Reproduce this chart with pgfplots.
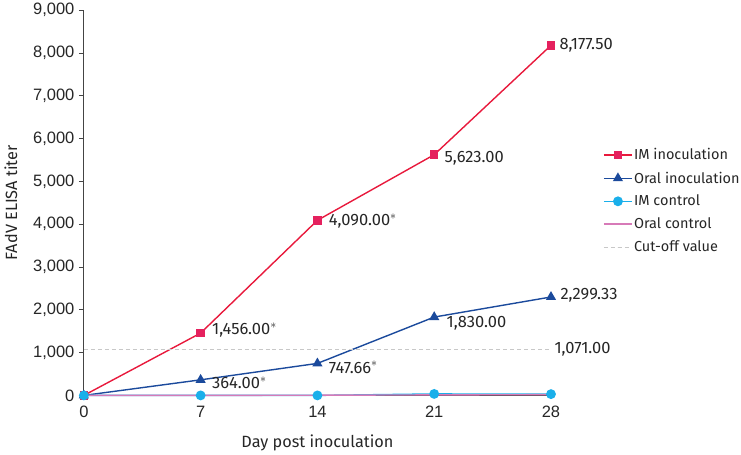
\documentclass[border=0pt]{standalone}
\usepackage{pgfplots}
\pgfplotsset{compat=1.18}
\usepackage{fontspec}
\setmainfont{Fira Sans}
\newfontfamily\tickfont{Liberation Sans}
\definecolor{IMred}{HTML}{E8193C}
\definecolor{IMmark}{HTML}{E5215E}
\definecolor{OralBlue}{HTML}{1B4A9C}
\definecolor{CtrlCyan}{HTML}{1AAFEA}
\definecolor{OralPink}{HTML}{D77AB8}
\definecolor{CutGray}{HTML}{C8C8C8}
\definecolor{AxisGray}{HTML}{444444}
\newcommand{\lblfont}{\fontsize{16.5}{18}\selectfont}
\begin{document}
\begin{tikzpicture}
\path (-84pt,-59pt) rectangle (657pt,394pt);
\begin{axis}[
  at={(0,0)}, anchor=south west,
  scale only axis, width=468pt, height=386pt,
  xmin=0, xmax=28, ymin=0, ymax=9000,
  clip=false,
  axis x line=bottom, axis y line=left,
  axis line style={AxisGray, line width=0.8pt, -},
  xtick={0,7,14,21,28},
  ytick={0,1000,...,9000},
  x tick style={draw=none},
  y tick style={AxisGray, line width=0.8pt},
  tick align=outside, major tick length=5pt,
  ticklabel style={font=\tickfont\fontsize{16.5}{18}\selectfont, text=black!85},
  yticklabel style={xshift=-1pt},
  xticklabel style={yshift=-2pt},
  scaled y ticks=false,
  /pgf/number format/.cd, 1000 sep={,}, assume math mode=true,
  /pgfplots/.cd,
  xlabel={Day post inoculation},
  ylabel={FAdV ELISA titer},
  label style={font=\fontsize{16.3}{18}\selectfont, text=black!85},
  xlabel style={yshift=-10pt},
  ylabel style={yshift=9pt},
  legend style={at={(1.1115,0.645)}, anchor=north west, draw=none, fill=none,
    font=\fontsize{14.5}{17}\selectfont, text=black!85, row sep=7.5pt,
    inner sep=0pt, nodes={inner sep=1.5pt}},
  legend cell align=left,
  legend image code/.code={
    \draw[mark repeat=2, mark phase=2, #1]
      plot coordinates {(0pt,0pt) (14pt,0pt) (28pt,0pt)};
  },
]
% IM inoculation
\addplot[IMred, line width=1.4pt, mark=square*, mark size=3.6pt,
  mark options={fill=IMmark, draw=IMmark}]
  coordinates {(0,0) (7,1456) (14,4090) (21,5623) (28,8177.5)};
\addlegendentry{IM inoculation}
% Oral inoculation
\addplot[OralBlue, line width=1.4pt, mark=triangle*, mark size=4.5pt,
  mark options={fill=OralBlue}]
  coordinates {(0,0) (7,364) (14,747.66) (21,1830) (28,2299.33)};
\addlegendentry{Oral inoculation}
% IM control
\addplot[CtrlCyan, line width=1.4pt, mark=*, mark size=4.2pt,
  mark options={fill=CtrlCyan, draw=CtrlCyan}]
  coordinates {(0,0) (7,0) (14,0) (21,35) (28,30)};
\addlegendentry{IM control}
% Oral control
\addplot[OralPink, line width=1.4pt, no markers]
  coordinates {(0,0) (7,0) (14,5) (21,12) (28,18)};
\addlegendentry{Oral control}
% cut-off
\addplot[CutGray, line width=0.9pt, dash pattern=on 4pt off 3pt, no markers]
  coordinates {(0,1071) (28,1071)};
\addlegendentry{Cut-off value}

\node[anchor=west, font=\lblfont, text=black!85] at (axis cs:7,1456) [xshift=8pt,yshift=3pt] {1,456.00$^{*}$};
\node[anchor=west, font=\lblfont, text=black!85] at (axis cs:14,4090) [xshift=8pt,yshift=-1pt] {4,090.00$^{*}$};
\node[anchor=west, font=\lblfont, text=black!85] at (axis cs:21,5623) [xshift=7pt,yshift=-4pt] {5,623.00};
\node[anchor=west, font=\lblfont, text=black!85] at (axis cs:28,8177.5) [xshift=5pt] {8,177.50};
\node[anchor=west, font=\lblfont, text=black!85] at (axis cs:7,364) [xshift=8pt,yshift=-3pt] {364.00$^{*}$};
\node[anchor=west, font=\lblfont, text=black!85] at (axis cs:14,747.66) [xshift=8pt,yshift=-4pt] {747.66$^{*}$};
\node[anchor=west, font=\lblfont, text=black!85] at (axis cs:21,1830) [xshift=9pt,yshift=-6pt] {1,830.00};
\node[anchor=west, font=\lblfont, text=black!85] at (axis cs:28,2299.33) [xshift=6pt,yshift=2pt] {2,299.33};
\node[anchor=west, font=\lblfont, text=black!85] at (axis cs:28,1071) [xshift=0pt] {1,071.00};
\end{axis}
\end{tikzpicture}
\end{document}
